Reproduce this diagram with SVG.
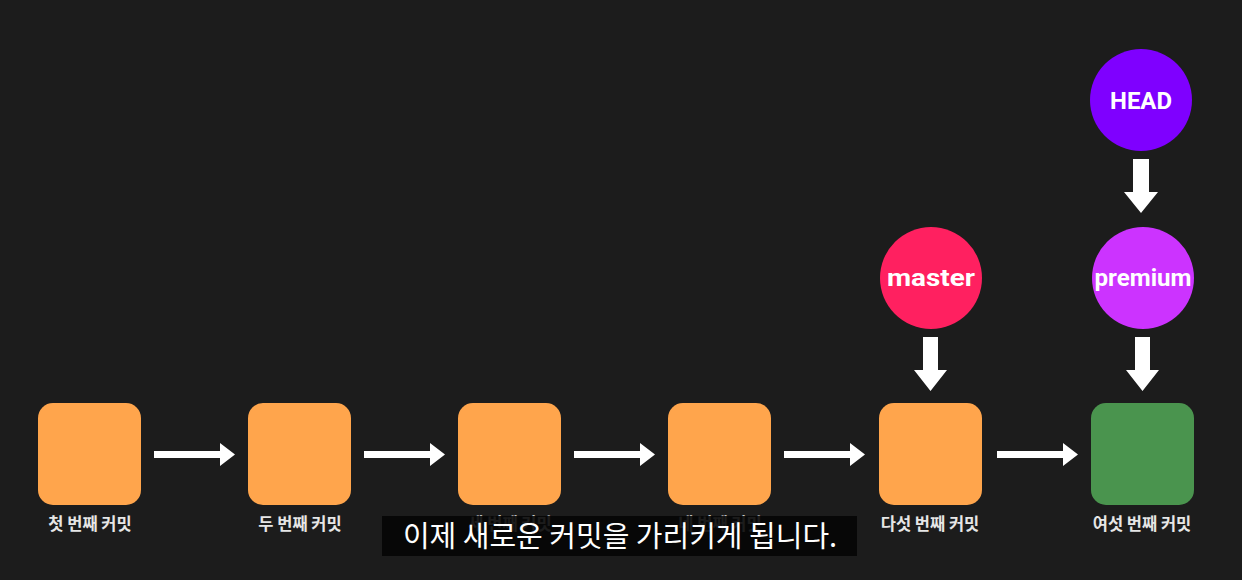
<svg xmlns="http://www.w3.org/2000/svg" width="1242" height="580" viewBox="0 0 1242 580">
<style>
.bg{fill:#1c1c1c}
.commit{fill:#ffa54c}
.green{fill:#4a944e}
.lbl{font-family:"Noto Sans CJK KR","Noto Sans",sans-serif;font-size:16.5px;font-weight:700;fill:#e6e6e6;text-anchor:middle}
.ptr{font-family:Roboto,"Noto Sans",sans-serif;font-size:24px;font-weight:700;fill:#ffffff;text-anchor:middle}
.arrow{fill:#ffffff}
.sub{font-family:"Noto Sans CJK KR","Noto Sans",sans-serif;font-size:29px;fill:#ffffff;text-anchor:middle}
</style>
<rect class="bg" x="0" y="0" width="1242" height="580"/>
<g id="connectors">
  <path class="arrow" d="M154,451 H220 V443 L235,454.5 L220,466 V458 H154 Z"/>
  <path class="arrow" d="M364,451 H430 V443 L445,454.5 L430,466 V458 H364 Z"/>
  <path class="arrow" d="M574,451 H640 V443 L655,454.5 L640,466 V458 H574 Z"/>
  <path class="arrow" d="M784,451 H850 V443 L865,454.5 L850,466 V458 H784 Z"/>
  <path class="arrow" d="M997,451 H1063 V443 L1078,454.5 L1063,466 V458 H997 Z"/>
  <path class="arrow" d="M923,337 H938 V370 H947 L930.5,391 L914,370 H923 Z"/>
  <path class="arrow" d="M1135,337 H1150 V370 H1159 L1142.5,391 L1126,370 H1135 Z"/>
  <path class="arrow" d="M1133,159 H1149 V192 H1158 L1141,213 L1124,192 H1133 Z"/>
</g>
<g id="commit1"><rect class="commit" x="38" y="403" width="103" height="102" rx="15"/><text class="lbl" x="90" y="530">첫 번째 커밋</text></g>
<g id="commit2"><rect class="commit" x="248" y="403" width="103" height="102" rx="15"/><text class="lbl" x="300" y="530">두 번째 커밋</text></g>
<g id="commit3"><rect class="commit" x="458" y="403" width="103" height="102" rx="15"/><text class="lbl" x="510" y="530">세 번째 커밋</text></g>
<g id="commit4"><rect class="commit" x="668" y="403" width="103" height="102" rx="15"/><text class="lbl" x="720" y="530">네 번째 커밋</text></g>
<g id="commit5"><rect class="commit" x="879" y="403" width="103" height="102" rx="15"/><text class="lbl" x="930" y="530">다섯 번째 커밋</text></g>
<g id="commit6"><rect class="green" x="1091" y="403" width="103" height="102" rx="15"/><text class="lbl" x="1142" y="530">여섯 번째 커밋</text></g>
<g id="master"><circle cx="931" cy="278" r="51" fill="#ff2060"/><text class="ptr" x="931" y="286" textLength="88" lengthAdjust="spacingAndGlyphs">master</text></g>
<g id="premium"><circle cx="1143" cy="278" r="51" fill="#cc33ff"/><text class="ptr" x="1143" y="286" textLength="97" lengthAdjust="spacingAndGlyphs">premium</text></g>
<g id="head"><circle cx="1141" cy="100" r="51" fill="#7f00ff"/><text class="ptr" x="1141" y="109" textLength="62" lengthAdjust="spacingAndGlyphs">HEAD</text></g>
<g id="subtitle"><rect x="382" y="516" width="475" height="40" fill="#050505" fill-opacity="0.9"/><text class="sub" x="620" y="547">이제 새로운 커밋을 가리키게 됩니다.</text></g>
</svg>
